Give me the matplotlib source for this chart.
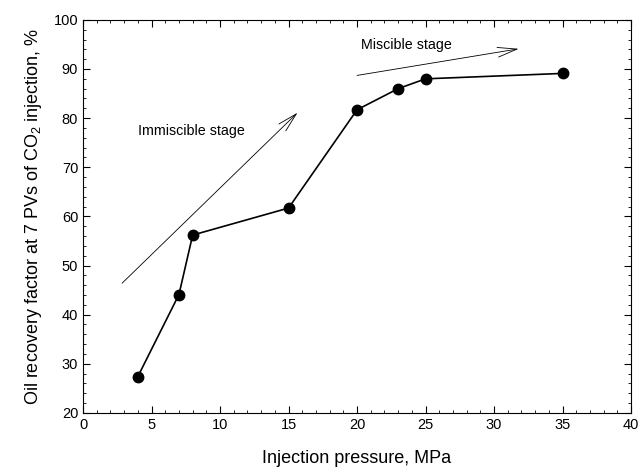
import matplotlib
matplotlib.use('Agg')
import matplotlib.pyplot as plt
from matplotlib.ticker import MultipleLocator

plt.rcParams['font.family'] = ['Liberation Sans', 'DejaVu Sans']
plt.rcParams['mathtext.fontset'] = 'custom'
plt.rcParams['mathtext.rm'] = 'Liberation Sans'
plt.rcParams['mathtext.it'] = 'Liberation Sans:italic'

# data
pressure = [4, 7, 8, 15, 20, 23, 25, 35]
recovery = [27.4, 44.1, 56.2, 61.7, 81.7, 86.0, 88.0, 89.1]

fig = plt.figure(figsize=(6.39, 4.73), dpi=100)
ax = fig.add_axes([0.13, 0.127, 0.8575, 0.831])

ax.plot(pressure, recovery, '-o', color='black', lw=1.2, ms=7.5)

# stage arrows
ax.annotate('', xy=(15.8, 81.5), xytext=(2.7, 46.0),
            arrowprops=dict(arrowstyle='->,head_length=1.4,head_width=0.35', lw=0.6, color='black'))
ax.annotate('', xy=(32.0, 94.2), xytext=(19.8, 88.6),
            arrowprops=dict(arrowstyle='->,head_length=1.4,head_width=0.35', lw=0.6, color='black'))
ax.text(7.9, 77.3, 'Immiscible stage', ha='center', va='center', fontsize=10.3)
ax.text(23.6, 94.8, 'Miscible stage', ha='center', va='center', fontsize=10.3)

ax.set_xlim(0, 40)
ax.set_ylim(20, 100)
ax.xaxis.set_major_locator(MultipleLocator(5))
ax.xaxis.set_minor_locator(MultipleLocator(1))
ax.yaxis.set_major_locator(MultipleLocator(10))
ax.yaxis.set_minor_locator(MultipleLocator(2))
ax.tick_params(which='both', direction='in', top=True, right=True, labelsize=10.5)
ax.tick_params(which='major', length=5)
ax.tick_params(which='minor', length=2.5)

ax.set_xlabel('Injection pressure, MPa', fontsize=13, labelpad=13)
ax.set_ylabel(r'Oil recovery factor at 7 PVs of CO$_2$ injection, %', fontsize=13, labelpad=7)

fig.savefig('out.png', dpi=100)
